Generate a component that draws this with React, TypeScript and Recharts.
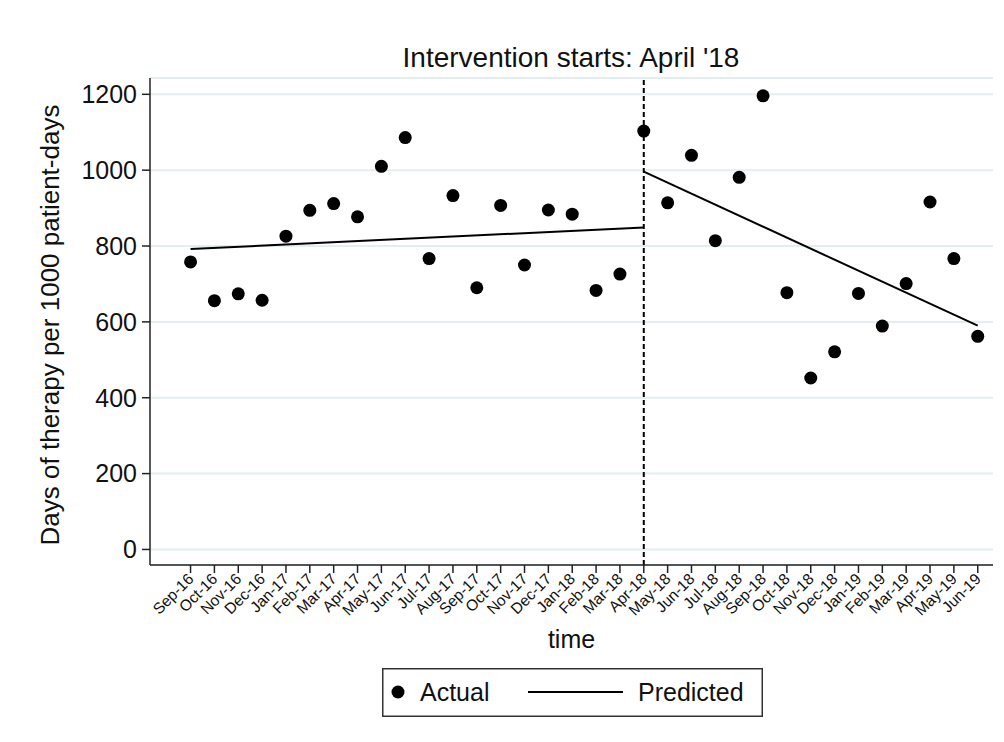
import React from 'react';
import {
  ComposedChart,
  Scatter,
  Line,
  XAxis,
  YAxis,
  CartesianGrid,
  ReferenceLine,
  Legend,
} from 'recharts';

const months = [
  'Sep-16', 'Oct-16', 'Nov-16', 'Dec-16', 'Jan-17', 'Feb-17', 'Mar-17', 'Apr-17',
  'May-17', 'Jun-17', 'Jul-17', 'Aug-17', 'Sep-17', 'Oct-17', 'Nov-17', 'Dec-17',
  'Jan-18', 'Feb-18', 'Mar-18', 'Apr-18', 'May-18', 'Jun-18', 'Jul-18', 'Aug-18',
  'Sep-18', 'Oct-18', 'Nov-18', 'Dec-18', 'Jan-19', 'Feb-19', 'Mar-19', 'Apr-19',
  'May-19', 'Jun-19',
];

const actual = [
  758, 656, 674, 657, 826, 894, 912, 877,
  1010, 1086, 767, 933, 690, 907, 750, 895,
  884, 683, 726, 1103, 914, 1039, 814, 981,
  1196, 677, 452, 521, 675, 589, 701, 916,
  767, 562,
];

const predictedPreMonths = ['Sep-16', 'Apr-18'];
const predictedPreValues = [792, 849];
const predictedPostMonths = ['Apr-18', 'Jun-19'];
const predictedPostValues = [996, 590];

const yTicks = [0, 200, 400, 600, 800, 1000, 1200];
const interventionMonth = 'Apr-18';
const titleText = "Intervention starts: April '18";
const yLabelText = 'Days of therapy per 1000 patient-days';
const xLabelText = 'time';

const FONT = '"Liberation Sans", Arial, Helvetica, sans-serif';

const actualData = months.map((m, i) => ({ x: i, y: actual[i] }));
const preData = predictedPreMonths.map((m, i) => ({ x: months.indexOf(m), y: predictedPreValues[i] }));
const postData = predictedPostMonths.map((m, i) => ({ x: months.indexOf(m), y: predictedPostValues[i] }));
const xTicks = months.map((_, i) => i);

const XTick = (props: any) => {
  const { x, y, payload } = props;
  return (
    <g transform={`translate(${x + 4},${y + 5})`}>
      <text
        textAnchor="end"
        transform="rotate(-45)"
        fontSize={15.5}
        fontFamily={FONT}
        fill="#111"
      >
        {months[payload.value]}
      </text>
    </g>
  );
};

const Dot = (props: any) => {
  const { cx, cy } = props;
  if (cx == null || cy == null) return null;
  return <circle cx={cx} cy={cy} r={6.5} fill="#000" />;
};

const LegendBox = () => (
  <svg width={381} height={49} style={{ display: 'block' }}>
    <rect x={0.75} y={0.75} width={379.5} height={47.5} fill="#fff" stroke="#333" strokeWidth={1.5} />
    <circle cx={16} cy={24} r={6.5} fill="#000" />
    <text x={38} y={33} fontSize={25} fontFamily={FONT} fill="#111">Actual</text>
    <line x1={146} x2={241} y1={24} y2={24} stroke="#000" strokeWidth={2} />
    <text x={256} y={33} fontSize={25} fontFamily={FONT} fill="#111">Predicted</text>
  </svg>
);

export default function App() {
  return (
    <div style={{ position: 'absolute', left: 0, top: 0, width: 1004, height: 742, background: '#fff' }}>
      <ComposedChart
        width={1004}
        height={742}
        margin={{ top: 78, right: 11, bottom: 0, left: 0 }}
        style={{ fontFamily: FONT }}
      >
        <CartesianGrid horizontal vertical={false} stroke="#e4eef1" strokeWidth={2} />
        <XAxis
          type="number"
          dataKey="x"
          domain={[-1.7, 33.64]}
          ticks={xTicks}
          interval={0}
          allowDataOverflow
          height={177}
          tickSize={8}
          tick={<XTick />}
          stroke="#222"
          strokeWidth={1.5}
          label={{
            value: xLabelText,
            position: 'insideTop',
            offset: 65,
            fontSize: 25,
            fill: '#111',
            fontFamily: FONT,
          }}
        />
        <YAxis
          type="number"
          dataKey="y"
          domain={[-41, 1243]}
          ticks={yTicks}
          allowDataOverflow
          width={150}
          tickSize={8}
          tickMargin={5}
          stroke="#222"
          strokeWidth={1.5}
          tick={{ fontSize: 25, fill: '#111', fontFamily: FONT }}
          label={{
            content: () => (
              <text
                x={59}
                y={325}
                transform="rotate(-90, 59, 325)"
                textAnchor="middle"
                fontSize={26}
                fontFamily={FONT}
                fill="#111"
              >
                {yLabelText}
              </text>
            ),
          }}
        />
        <ReferenceLine
          x={months.indexOf(interventionMonth)}
          stroke="#000"
          strokeWidth={2}
          strokeDasharray="5 3"
          ifOverflow="extendDomain"
        />
        <Scatter name="Actual" data={actualData} dataKey="y" shape={<Dot />} isAnimationActive={false} />
        <Line
          name="Predicted"
          data={preData}
          dataKey="y"
          stroke="#000"
          strokeWidth={2}
          dot={false}
          activeDot={false}
          isAnimationActive={false}
        />
        <Line
          name="Predicted"
          data={postData}
          dataKey="y"
          stroke="#000"
          strokeWidth={2}
          dot={false}
          activeDot={false}
          isAnimationActive={false}
        />
        <text x={571} y={67} textAnchor="middle" fontSize={28} fontFamily={FONT} fill="#111">
          {titleText}
        </text>
        <Legend
          layout="horizontal"
          verticalAlign="middle"
          align="center"
          content={<LegendBox />}
          wrapperStyle={{ position: 'absolute', left: 382, top: 668, width: 381, height: 49 }}
        />
      </ComposedChart>
    </div>
  );
}
